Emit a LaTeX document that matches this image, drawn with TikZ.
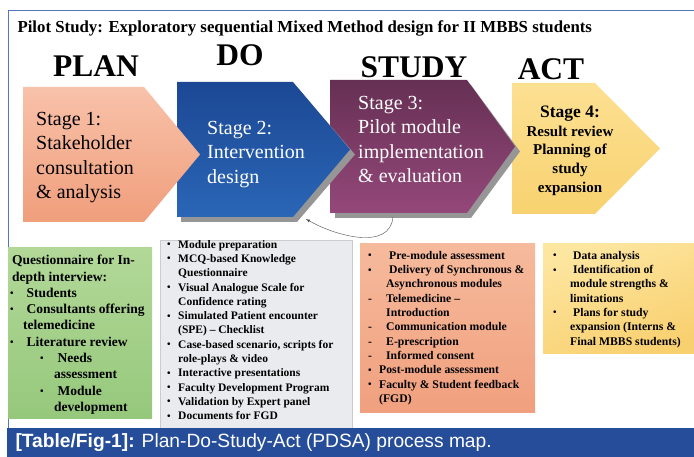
\documentclass[tikz,border=0pt]{standalone}
\usepackage{fontspec}
\setmainfont{Liberation Serif}
\newfontfamily\capfont{Liberation Sans}

\definecolor{frameblue}{RGB}{84,118,188}
\definecolor{bandblue}{RGB}{38,77,153}
\definecolor{planA}{RGB}{248,194,170}
\definecolor{planB}{RGB}{240,158,124}
\definecolor{doA}{RGB}{28,72,148}
\definecolor{doB}{RGB}{42,102,182}
\definecolor{studyA}{RGB}{102,48,84}
\definecolor{studyB}{RGB}{148,72,122}
\definecolor{actA}{RGB}{252,224,146}
\definecolor{actB}{RGB}{248,210,112}
\definecolor{greenA}{RGB}{178,216,152}
\definecolor{greenB}{RGB}{150,200,124}
\definecolor{listgray}{RGB}{233,235,238}
\definecolor{salmonA}{RGB}{246,186,156}
\definecolor{salmonB}{RGB}{240,160,126}
\definecolor{yellowA}{RGB}{253,230,160}
\definecolor{yellowB}{RGB}{249,208,112}
\definecolor{shadowgray}{RGB}{150,150,150}

\tikzset{
  heading/.style={font=\bfseries\fontsize{31.5}{33}\selectfont},
  stagetext/.style={anchor=north west,align=left,inner sep=0pt,font=\fontsize{20}{24.5}\selectfont},
  listtext/.style={anchor=north west,align=left,inner sep=0pt,font=\bfseries\fontsize{11.7}{14.3}\selectfont},
}

% bullet, dash and hanging indent for the lists
\newcommand\bl[1][11pt]{\makebox[#1][l]{\raisebox{0.1ex}{\fontsize{10}{10}\selectfont\textbullet}}}
\newcommand\dl[1][18pt]{\makebox[#1][l]{-}}
\newcommand\hd[1][11pt]{\hspace*{#1}}
% arrow shaped stage: style, left x, top y, corner x, tip x, bottom y
\newcommand\chevron[6]{\path[#1] (#2,#3) -- (#4,#3) -- (#5,{(#3+#6)/2}) -- (#4,#6) -- (#2,#6) -- cycle;}

\begin{document}
\begin{tikzpicture}[x=1pt,y=-1pt]
\useasboundingbox[fill=white] (0,0) rectangle (694,457);
%\draw[help lines,step=50] (0,0) grid (694,457);
\draw[frameblue,line width=1.6pt] (8.5,428) -- (8.5,10.5) -- (694,10.5);
\node[anchor=west,font=\bfseries\fontsize{16.8}{18}\selectfont] (title) at (14,28)
  {Pilot Study: Exploratory sequential Mixed Method design for II MBBS students};

\node[heading] (plan) at (96,66) {PLAN};
\node[heading] (do) at (240,55) {DO};
\node[heading] (study) at (414,67) {STUDY};
\node[heading] (act) at (551,69) {ACT};

% stages, last one first so every tip lies over the next
\chevron{top color=actA,bottom color=actB}{512}{83}{595}{660}{214}
\chevron{fill=shadowgray}{335}{85}{471}{520}{218}
\chevron{top color=studyA,bottom color=studyB}{330}{80}{467}{515}{213}
\chevron{fill=shadowgray}{181}{87}{297}{355}{222}
\chevron{top color=doA,bottom color=doB}{177}{82}{293}{350}{217}
\chevron{top color=planA,bottom color=planB}{23}{87}{144}{200}{222}

\node[stagetext] (s1) at (36,112) {Stage 1:\\Stakeholder\\consultation\\\& analysis};
\node[stagetext,white] (s2) at (207,121) {Stage 2:\\Intervention\\design};
\node[stagetext,white] (s3) at (358,96) {Stage 3:\\Pilot module\\implementation\\\& evaluation};
\node[anchor=north,align=center,inner sep=0pt,font=\bfseries\fontsize{15}{18.6}\selectfont] (s4) at (570,106)
  {{\fontsize{17.5}{19}\selectfont Stage 4:}\\Result review\\Planning of\\study\\expansion};

\coordinate (s3b) at (393,217);
\coordinate (s2c) at (306,219);
\draw[gray!60!black,thin,-latex] (s3b) to[out=-95,in=-30] (s2c);

% lists under the stages
\path[top color=greenA,bottom color=greenB] (8,248) rectangle (152,418);
\path[fill=listgray,draw=gray!40] (160,240) rectangle (352,428);
\path[top color=salmonA,bottom color=salmonB] (360,244) rectangle (535,412);
\path[top color=yellowA,bottom color=yellowB,shading angle=20] (543,244) rectangle (694,353);

\node[listtext,font=\bfseries\fontsize{13.5}{16.3}\selectfont] (planlist) at (10,255)
  {\hd[2pt]Questionnaire for In-\\\hd[2pt]depth interview:\\
   \bl[13pt] Students\\\bl[13pt] Consultants offering\\\hd[13pt]telemedicine\\
   \bl[13pt] Literature review\\
   \hd[30pt]\bl[14pt] Needs\\\hd[44pt]assessment\\
   \hd[30pt]\bl[14pt] Module\\\hd[44pt]development};
\node[listtext,font=\bfseries\fontsize{11.5}{14.3}\selectfont] (dolist) at (167,240)
  {\bl Module preparation\\\bl MCQ-based Knowledge\\\hd Questionnaire\\
   \bl Visual Analogue Scale for\\\hd Confidence rating\\
   \bl Simulated Patient encounter\\\hd (SPE) -- Checklist\\
   \bl Case-based scenario, scripts for\\\hd role-plays \& video\\
   \bl Interactive presentations\\\bl Faculty Development Program\\
   \bl Validation by Expert panel\\\bl Documents for FGD};
\node[listtext] (studylist) at (368,251)
  {\bl[18pt] Pre-module assessment\\\bl[18pt] Delivery of Synchronous \&\\\hd[18pt]Asynchronous modules\\
   \dl Telemedicine --\\\hd[18pt]Introduction\\\dl Communication module\\
   \dl E-prescription\\\dl Informed consent\\
   \bl Post-module assessment\\\bl Faculty \& Student feedback\\\hd (FGD)};
\node[listtext] (actlist) at (553,251)
  {\bl[17pt] Data analysis\\\bl[17pt] Identification of\\\hd[17pt]module strengths \&\\\hd[17pt]limitations\\
   \bl[17pt] Plans for study\\\hd[17pt]expansion (Interns \&\\\hd[17pt]Final MBBS students)};

% caption band
\fill[bandblue] (7,428) rectangle (694,457);
\node[anchor=west,white,font=\capfont\fontsize{19.2}{21}\selectfont] (caption) at (12,443)
  {\textbf{[Table/Fig-1]:} Plan-Do-Study-Act (PDSA) process map.};
\end{tikzpicture}
\end{document}
